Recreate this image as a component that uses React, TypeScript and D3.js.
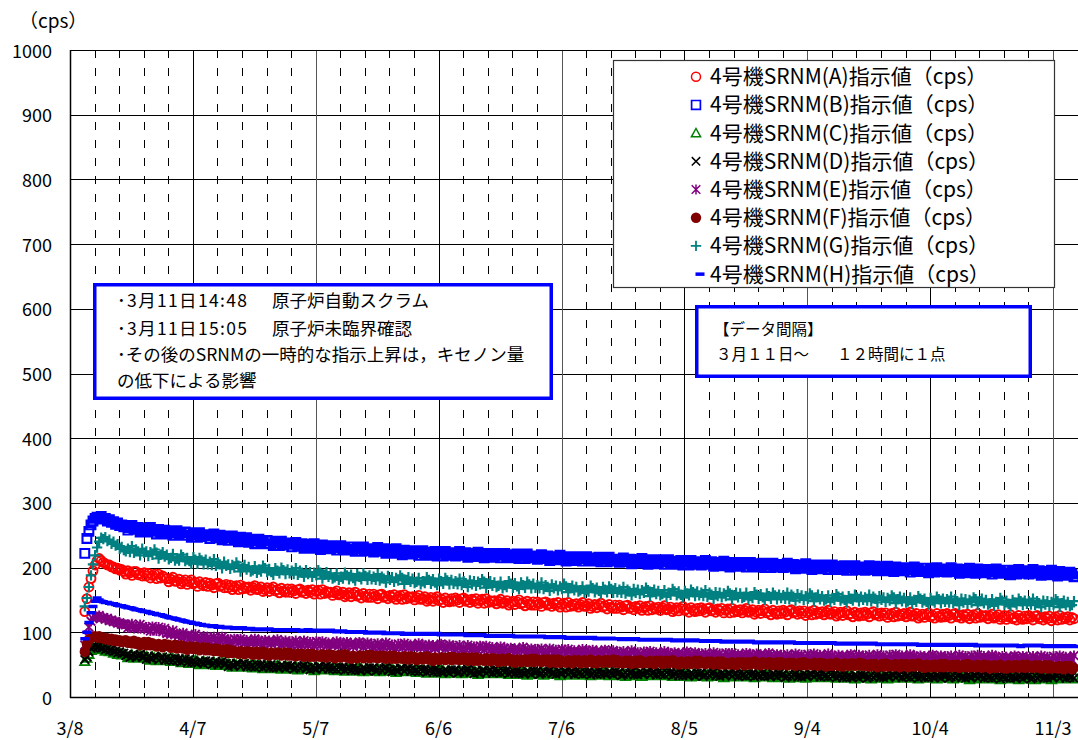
import React from "react";
import * as d3 from "d3";

// SRNM count rates (cps), one reading every 12 hours from 2011-03-11 15:00.
// Each row holds 10 days (20 readings).
const srnmA = [
  132,152,170,183,195,204,211,214,211,208,206,204,204,201,201,198,199,196,197,194,
  190,195,192,188,194,194,189,191,187,192,187,191,184,188,190,183,190,184,187,185,
  183,178,182,185,179,179,182,175,178,181,174,178,181,175,177,171,178,174,172,177,
  171,176,173,169,175,176,171,173,169,174,169,173,166,170,172,166,173,167,170,168,
  170,165,169,172,166,167,170,163,166,169,163,167,170,164,166,161,168,164,162,167,
  162,167,164,160,166,167,162,164,160,165,162,166,159,163,165,159,166,160,163,161,
  162,157,161,164,158,159,162,155,158,161,155,159,162,156,158,153,160,156,154,159,
  154,159,156,152,158,159,154,156,152,157,154,158,151,155,157,151,158,152,155,153,
  155,150,154,157,151,152,155,148,151,154,148,152,155,149,151,146,153,149,147,152,
  148,153,150,146,152,153,148,150,146,151,148,152,145,149,151,145,152,146,149,147,
  149,144,148,151,145,146,149,142,145,148,143,147,150,144,146,141,148,144,142,147,
  142,147,144,140,146,147,142,144,140,145,142,146,139,143,145,139,146,140,143,141,
  144,139,143,146,140,141,144,137,140,143,138,142,145,139,141,136,143,139,137,142,
  137,142,139,135,141,142,137,139,135,140,137,141,134,138,140,134,141,135,138,136,
  139,134,138,141,135,136,139,132,135,138,133,137,140,134,136,131,138,134,132,137,
  133,138,135,131,137,138,133,135,131,136,133,137,130,134,136,130,137,131,134,132,
  135,130,134,137,131,132,135,128,131,134,129,133,136,130,132,127,134,130,128,133,
  129,134,131,127,133,135,130,132,128,133,129,133,126,130,132,127,134,128,131,129,
  132,127,131,134,128,129,132,125,128,131,126,130,133,127,129,124,131,127,125,130,
  126,131,128,124,130,132,127,129,125,130,126,130,123,127,129,124,131,125,128,126,
  129,124,128,131,125,126,129,122,125,128,123,127,130,124,126,122,129,125,123,128,
  124,129,126,122,128,129,124,126,122,127,124,128,121,125,127,122,129,123,126,124,
  126,121,125,128,122,124,127,120,123,126,120,124,127,121,123,119,126,122,120,125,
  121,126,123,119,125,126,121,123,119,124,121,125,118,122,124,119,126,120,123,121,
  124,119,123,121,
];

const srnmB = [
  222,245,256,266,272,276,278,277,279,275,276,272,274,270,271,267,269,265,266,263,
  263,258,262,265,259,259,262,255,258,261,255,259,262,256,258,252,259,255,253,258,
  252,257,254,250,256,257,252,254,250,255,250,254,247,251,253,247,254,248,251,249,
  250,245,249,252,246,247,250,243,246,249,242,246,249,243,245,240,247,243,241,246,
  239,244,241,237,243,244,239,241,237,242,237,241,234,238,240,234,241,235,238,236,
  237,232,236,239,233,234,237,230,233,236,230,234,237,231,233,228,235,231,229,234,
  229,234,231,227,233,234,229,231,227,232,228,232,225,229,231,225,232,226,229,227,
  229,224,228,231,225,226,229,222,225,228,222,226,229,223,225,220,227,223,221,226,
  221,226,223,219,225,226,221,223,219,224,221,225,218,222,224,218,225,219,222,220,
  223,218,222,225,219,220,223,216,219,222,217,221,224,218,220,215,222,218,216,221,
  217,222,219,215,221,222,217,219,215,220,217,221,214,218,220,214,221,215,218,216,
  218,213,217,220,214,215,218,211,214,217,212,216,219,213,215,210,217,213,211,216,
  212,217,214,210,216,217,212,214,210,215,212,216,209,213,215,209,216,210,213,211,
  213,208,212,215,209,210,213,206,209,212,207,211,214,208,210,205,212,208,206,211,
  207,212,209,205,211,212,207,209,205,210,207,211,204,208,210,204,211,205,208,206,
  209,204,208,211,205,206,209,202,205,208,203,207,210,204,206,201,208,204,202,207,
  203,208,205,201,207,208,203,205,201,206,203,207,200,204,206,200,207,201,204,202,
  205,200,204,207,201,202,205,198,201,204,199,203,206,200,202,197,204,200,198,203,
  199,204,201,197,203,204,199,201,197,202,199,203,196,200,202,196,203,197,200,198,
  201,196,200,203,197,199,202,195,198,201,195,199,202,196,198,194,201,197,195,200,
  195,200,197,193,199,201,196,198,194,199,195,199,192,196,198,193,200,194,197,195,
  198,193,197,200,194,195,198,191,194,197,192,196,199,193,195,191,198,194,192,197,
  192,197,194,190,196,198,193,195,191,196,192,196,189,193,195,190,197,191,194,192,
  195,190,194,197,191,192,195,188,191,194,189,193,196,190,192,187,194,190,188,193,
  188,193,190,186,
];

const srnmC = [
  55,60,66,72,75,76,75,76,73,74,71,73,70,71,68,69,66,68,65,66,
  65,61,62,65,60,62,60,65,63,60,62,59,57,62,60,56,61,59,56,60,
  56,58,55,60,55,58,56,53,58,55,56,52,55,53,57,55,50,53,55,51,
  54,50,51,54,49,51,49,54,52,49,51,48,46,51,49,46,51,49,46,50,
  46,48,45,50,45,49,47,44,49,46,48,44,47,45,49,48,43,46,48,44,
  47,43,44,47,42,45,43,48,46,43,46,43,41,46,44,42,47,45,42,46,
  42,44,41,46,41,45,43,40,45,42,44,40,43,41,45,44,39,42,44,40,
  44,40,41,44,39,42,40,45,43,40,43,40,38,43,41,39,44,42,39,43,
  39,41,38,43,38,42,40,37,42,39,41,37,40,38,42,41,36,39,41,37,
  41,37,38,41,36,39,37,42,40,37,40,37,35,40,38,36,41,39,36,40,
  37,39,36,41,36,40,38,35,40,37,39,35,38,36,40,39,34,37,39,35,
  39,35,36,39,34,37,35,40,38,35,38,35,33,38,36,34,39,37,34,38,
  35,37,34,39,34,38,36,33,38,35,38,34,37,35,39,38,33,36,38,34,
  37,33,34,37,32,35,33,38,36,33,37,34,32,37,35,33,38,36,33,37,
  34,36,33,38,33,37,35,32,37,34,36,32,35,33,37,36,31,34,36,32,
  36,32,33,36,31,34,32,37,35,32,35,32,30,35,33,31,36,34,31,35,
  32,34,31,36,31,35,33,30,35,32,35,31,34,32,36,35,30,33,35,31,
  34,30,31,34,29,32,30,35,33,30,34,31,29,34,32,30,35,33,30,34,
  31,33,30,35,30,34,32,29,34,31,33,29,32,30,34,33,28,31,33,29,
  33,29,30,33,28,31,29,34,32,29,33,30,28,33,31,29,34,32,29,33,
  30,32,29,34,29,33,31,28,33,30,33,29,32,30,34,33,28,31,33,29,
  33,29,30,33,28,31,29,34,32,29,32,29,27,32,30,28,33,31,28,32,
  29,31,28,33,28,32,30,27,32,29,32,28,31,29,33,32,27,30,32,28,
  32,28,29,32,27,30,28,33,31,28,32,29,27,32,30,28,33,31,28,32,
  29,31,28,33,
];

const srnmD = [
  58,62,70,75,77,79,77,78,75,76,73,75,72,73,70,71,68,70,67,68,
  64,66,61,63,66,61,64,66,61,63,58,63,60,59,63,61,57,60,62,57,
  61,57,59,56,60,56,59,54,57,59,53,58,53,56,54,52,56,54,51,56,
  53,55,50,52,55,50,53,55,50,52,47,52,49,48,52,51,47,50,52,47,
  51,47,49,46,50,47,50,45,48,50,45,50,45,48,46,45,49,47,44,49,
  46,48,43,45,48,44,47,49,44,46,42,47,44,43,47,47,43,46,48,43,
  47,43,45,42,46,43,46,41,44,46,41,46,41,44,42,41,45,43,40,45,
  43,45,40,42,45,41,44,46,41,43,39,44,41,40,44,44,40,43,45,40,
  44,40,42,39,43,40,43,38,41,43,38,43,38,41,39,38,42,40,37,42,
  40,42,37,39,42,38,41,43,38,40,36,41,38,37,41,41,37,40,42,37,
  42,38,40,37,41,38,41,36,39,41,36,41,36,39,37,36,40,38,35,40,
  38,40,35,37,40,36,39,41,36,38,35,40,37,36,40,39,35,38,40,35,
  40,36,38,35,39,36,39,34,37,39,35,40,35,38,36,35,39,37,34,39,
  36,38,33,35,38,34,37,39,34,36,34,39,36,35,39,38,34,37,39,34,
  39,35,37,34,38,35,38,33,36,38,33,38,33,36,34,33,37,35,32,37,
  35,37,32,34,37,33,36,38,33,35,32,37,34,33,37,36,32,35,37,32,
  37,33,35,32,36,33,36,31,34,36,32,37,32,35,33,32,36,34,31,36,
  33,35,30,32,35,31,34,36,31,33,31,36,33,32,36,35,31,34,36,31,
  36,32,34,31,35,32,35,30,33,35,30,35,30,33,31,30,34,32,29,34,
  32,34,29,31,34,30,33,35,30,32,30,35,32,31,35,34,30,33,35,30,
  35,31,33,30,34,31,34,29,32,34,30,35,30,33,31,30,34,32,29,34,
  32,34,29,31,34,30,33,35,30,32,29,34,31,30,34,33,29,32,34,29,
  34,30,32,29,33,30,33,28,31,33,29,34,29,32,30,29,33,31,28,33,
  31,33,28,30,33,29,32,34,29,31,29,34,31,30,34,33,29,32,34,29,
  34,30,32,29,
];

const srnmE = [
  80,95,108,117,121,125,124,126,122,123,120,122,118,119,116,117,114,115,112,113,
  112,107,109,113,106,108,106,112,109,105,108,105,102,109,106,102,108,105,101,106,
  98,100,97,103,96,98,96,92,99,95,95,90,94,92,97,93,87,91,94,89,
  92,87,89,93,86,89,87,93,90,86,89,86,83,90,87,84,90,87,83,88,
  85,87,84,90,83,87,85,81,88,84,87,82,86,84,89,86,80,84,87,82,
  86,81,83,87,80,83,81,87,84,80,85,82,79,86,83,80,86,83,79,84,
  81,83,80,86,79,84,82,78,85,81,83,78,82,80,85,83,77,81,84,79,
  82,77,79,83,76,80,78,84,81,77,81,78,75,82,79,77,83,80,76,81,
  78,80,77,83,76,80,78,74,81,77,80,75,79,77,82,80,74,78,81,76,
  79,74,76,80,73,76,74,80,77,73,78,75,72,79,76,73,79,76,72,77,
  73,75,72,78,71,75,73,69,76,72,75,70,74,72,77,74,68,72,75,70,
  74,69,71,75,68,71,69,75,72,68,73,70,67,74,71,68,74,71,67,72,
  69,71,68,74,67,72,70,66,73,69,71,66,70,68,73,71,65,69,72,67,
  70,65,67,71,64,68,66,72,69,65,69,66,63,70,67,65,71,68,64,69,
  66,68,65,71,64,68,66,62,69,65,68,63,67,65,70,68,62,66,69,64,
  67,62,64,68,61,65,63,69,66,62,67,64,61,68,65,62,68,65,61,66,
  63,65,62,68,61,66,64,60,67,63,66,61,65,63,68,65,59,63,66,61,
  65,60,62,66,59,63,61,67,64,60,65,62,59,66,63,61,67,64,60,65,
  62,64,61,67,60,64,62,58,65,61,64,59,63,61,66,64,58,62,65,60,
  64,59,61,65,58,62,60,66,63,59,64,61,58,65,62,60,66,63,59,64,
  61,63,60,66,59,63,61,57,64,60,63,58,62,60,65,63,57,61,64,59,
  63,58,60,64,57,61,59,65,62,58,63,60,57,64,61,59,65,62,58,63,
  60,62,59,65,58,62,60,56,63,59,62,57,61,59,64,62,56,60,63,58,
  62,57,59,63,56,60,58,64,61,57,62,59,56,63,60,58,64,61,57,62,
  59,61,58,64,
];

const srnmF = [
  70,82,88,91,93,94,92,94,91,92,89,91,88,90,87,89,86,88,85,87,
  88,84,86,83,87,82,85,80,83,85,80,85,80,83,81,78,82,80,77,82,
  79,81,76,78,81,75,78,80,75,77,73,78,75,74,78,76,72,75,77,72,
  76,72,74,71,75,71,74,69,72,74,68,73,68,71,69,67,71,69,66,71,
  68,70,65,67,70,65,68,70,65,67,64,69,66,65,69,68,64,67,69,64,
  68,64,66,63,67,64,67,62,65,67,62,67,62,65,63,62,66,64,61,66,
  63,65,60,62,65,61,64,66,61,63,59,64,61,60,64,64,60,63,65,60,
  65,61,63,60,64,61,64,59,62,64,59,64,59,62,60,59,63,61,58,63,
  60,62,57,59,62,58,61,63,58,60,56,61,58,57,61,61,57,60,62,57,
  62,58,60,57,61,58,61,56,59,61,56,61,56,59,57,56,60,58,55,60,
  57,59,54,56,59,55,58,60,55,57,53,58,55,54,58,58,54,57,59,54,
  59,55,57,54,58,55,58,53,56,58,53,58,53,56,54,53,57,55,52,57,
  55,57,52,54,57,53,56,58,53,55,52,57,54,53,57,57,53,56,58,53,
  57,53,55,52,56,53,56,51,54,56,52,57,52,55,53,52,56,54,51,56,
  54,56,51,53,56,52,55,57,52,54,50,55,52,51,55,55,51,54,56,51,
  56,52,54,51,55,52,55,50,53,55,50,55,50,53,51,50,54,52,49,54,
  52,54,49,51,54,50,53,55,50,52,49,54,51,50,54,53,49,52,54,49,
  54,50,52,49,53,50,53,48,51,53,49,54,49,52,50,49,53,51,48,53,
  50,52,47,49,52,48,51,53,48,50,47,52,49,48,52,52,48,51,53,48,
  52,48,50,47,51,48,51,46,49,51,47,52,47,50,48,47,51,49,46,51,
  49,51,46,48,51,47,50,52,47,49,45,50,47,46,50,50,46,49,51,46,
  51,47,49,46,50,47,50,45,48,50,46,51,46,49,47,46,50,48,45,50,
  47,49,44,46,49,45,48,50,45,47,44,49,46,45,49,49,45,48,50,45,
  50,46,48,45,49,46,49,44,47,49,44,49,44,47,45,44,48,46,43,48,
  46,48,43,45,
];

const srnmG = [
  140,153,170,188,205,219,231,240,246,244,247,241,243,237,240,234,236,229,232,227,
  225,229,224,233,223,228,225,219,229,223,225,218,224,220,228,223,214,220,224,217,
  220,213,215,221,211,214,211,220,216,210,215,210,206,216,212,206,215,211,205,212,
  205,209,204,213,203,208,205,199,209,203,205,198,204,200,208,203,194,200,204,197,
  201,194,196,202,192,197,194,203,199,193,198,193,189,199,195,191,200,196,190,197,
  191,195,190,199,189,195,192,186,196,190,193,186,192,188,196,192,183,189,193,186,
  190,183,185,191,181,186,183,192,188,182,189,184,180,190,186,182,191,187,181,188,
  182,186,181,190,180,186,183,177,187,181,185,178,184,180,188,184,175,181,185,178,
  183,176,178,184,174,179,176,185,181,175,182,177,173,183,179,175,184,180,174,181,
  175,179,174,183,173,179,176,170,180,174,179,172,178,174,182,178,169,175,179,172,
  177,170,172,178,168,173,170,179,175,169,176,171,167,177,173,169,178,174,168,175,
  169,173,168,177,167,173,170,164,174,168,172,165,171,167,175,171,162,168,172,165,
  170,163,165,171,161,166,163,172,168,162,169,164,160,170,166,162,171,167,161,168,
  162,166,161,170,160,166,163,157,167,161,166,159,165,161,169,165,156,162,166,159,
  164,157,159,165,155,161,158,167,163,157,163,158,154,164,160,157,166,162,156,163,
  157,161,156,165,155,161,158,152,162,156,161,154,160,156,164,160,151,157,161,154,
  160,153,155,161,151,156,153,162,158,152,159,154,150,160,156,152,161,157,151,158,
  153,157,152,161,151,158,155,149,159,153,157,150,156,152,160,157,148,154,158,151,
  156,149,151,157,147,153,150,159,155,149,155,150,146,156,152,149,158,154,148,155,
  150,154,149,158,148,155,152,146,156,150,154,147,153,149,157,154,145,151,155,148,
  153,146,148,154,144,150,147,156,152,146,152,147,143,153,149,146,155,151,145,152,
  147,151,146,155,145,151,148,142,152,146,151,144,150,146,154,151,142,148,152,145,
  150,143,145,151,141,147,144,153,149,143,149,144,140,150,146,143,152,148,142,149,
  144,148,143,152,142,148,145,139,149,143,148,141,147,143,151,148,139,145,149,142,
  147,140,142,148,
];

const srnmH = [
  90,100,115,130,140,148,153,150,148,147,146,146,145,144,144,143,142,141,141,140,
  139,138,138,137,136,135,135,134,133,132,132,131,130,129,129,128,127,127,126,125,
  124,123,122,122,121,120,119,119,118,117,116,116,115,114,114,113,112,112,111,111,
  110,110,109,110,109,108,109,108,108,107,108,107,107,106,107,106,106,107,106,105,
  105,106,105,104,105,105,104,105,104,104,105,104,104,103,104,104,103,104,104,103,
  104,103,103,104,103,103,102,103,103,104,103,102,103,103,102,103,102,103,102,102,
  103,102,102,101,102,101,102,101,101,100,101,101,100,101,100,100,101,100,99,100,
  100,99,100,99,99,100,99,98,99,99,98,99,98,98,99,98,97,98,98,97,
  98,98,97,98,97,98,98,97,97,98,97,97,98,97,96,97,97,96,97,97,
  97,96,97,96,96,97,96,95,96,96,95,96,95,95,96,95,95,94,95,95,
  95,94,95,95,94,95,94,94,95,94,94,93,94,94,93,94,94,93,94,93,
  94,93,93,94,93,93,92,93,93,92,93,92,92,93,92,92,91,92,92,91,
  92,91,92,91,91,92,91,91,92,91,90,91,91,90,91,90,90,91,90,90,
  90,90,89,90,89,90,90,89,89,90,89,89,88,89,89,88,89,88,88,89,
  89,88,89,88,88,89,88,88,87,88,88,87,88,87,88,88,87,87,88,87,
  87,87,86,87,86,87,87,86,86,87,86,86,85,86,86,85,86,85,85,86,
  86,85,86,85,85,86,85,85,84,85,85,84,85,85,84,85,84,84,85,84,
  85,84,85,84,84,85,84,84,83,84,84,83,84,84,83,84,83,83,84,83,
  84,83,84,83,83,84,83,83,82,83,83,82,83,83,82,83,82,82,83,82,
  83,82,83,82,82,83,82,82,81,82,82,81,82,82,81,82,81,81,82,81,
  82,81,82,81,81,82,81,81,80,81,81,80,81,81,80,81,80,80,81,80,
  81,80,81,81,80,81,80,80,81,80,80,81,80,80,81,80,79,80,80,79,
  80,80,79,80,79,80,80,79,80,79,79,80,79,79,80,79,79,78,79,79,
  80,80,79,80,79,79,80,79,79,78,79,79,78,79,79,78,79,78,78,79,
  79,78,79,78,
];

const legendLabels = [
  "4号機SRNM(A)指示値（cps）",
  "4号機SRNM(B)指示値（cps）",
  "4号機SRNM(C)指示値（cps）",
  "4号機SRNM(D)指示値（cps）",
  "4号機SRNM(E)指示値（cps）",
  "4号機SRNM(F)指示値（cps）",
  "4号機SRNM(G)指示値（cps）",
  "4号機SRNM(H)指示値（cps）",
];

const yTickValues = [0, 100, 200, 300, 400, 500, 600, 700, 800, 900, 1000];
const xTickLabels = ["3/8", "4/7", "5/7", "6/6", "7/6", "8/5", "9/4", "10/4", "11/3"];

const FONT = "'Noto Sans CJK JP', 'Noto Sans', sans-serif";
const DAY = 86400000;
const AXIS_START = Date.UTC(2011, 2, 8);
const FIRST_READING = Date.UTC(2011, 2, 11, 15);
const STEP = DAY / 2;

const W = 1078;
const H = 740;
const PLOT = { left: 70, top: 50, bottom: 697, right: W };

const x = d3
  .scaleUtc()
  .domain([new Date(AXIS_START), new Date(AXIS_START + 240 * DAY)])
  .range([70, 1053]);
const y = d3.scaleLinear().domain([0, 1000]).range([PLOT.bottom, PLOT.top]);

type Kind = "circle" | "square" | "triangle" | "cross" | "asterisk" | "dot" | "plus" | "dash";

const f = (n: number) => n.toFixed(1);

function glyph(kind: Kind, cx: number, cy: number): string {
  switch (kind) {
    case "circle": {
      const r = 4.5;
      return `M${f(cx + r)},${f(cy)}A${r},${r} 0 1,0 ${f(cx - r)},${f(cy)}A${r},${r} 0 1,0 ${f(cx + r)},${f(cy)}Z`;
    }
    case "dot": {
      const r = 5.2;
      return `M${f(cx + r)},${f(cy)}A${r},${r} 0 1,0 ${f(cx - r)},${f(cy)}A${r},${r} 0 1,0 ${f(cx + r)},${f(cy)}Z`;
    }
    case "square": {
      const h = 4.4;
      return `M${f(cx - h)},${f(cy - h)}h${2 * h}v${2 * h}h${-2 * h}Z`;
    }
    case "triangle": {
      const h = 4.6;
      return `M${f(cx)},${f(cy - h)}L${f(cx + h)},${f(cy + h * 0.8)}L${f(cx - h)},${f(cy + h * 0.8)}Z`;
    }
    case "cross": {
      const h = 4.2;
      return `M${f(cx - h)},${f(cy - h)}L${f(cx + h)},${f(cy + h)}M${f(cx - h)},${f(cy + h)}L${f(cx + h)},${f(cy - h)}`;
    }
    case "asterisk": {
      const h = 4.3;
      return `M${f(cx - h)},${f(cy - h)}L${f(cx + h)},${f(cy + h)}M${f(cx - h)},${f(cy + h)}L${f(cx + h)},${f(cy - h)}M${f(cx)},${f(cy - h - 0.8)}V${f(cy + h + 0.8)}`;
    }
    case "plus": {
      const h = 5.2;
      return `M${f(cx - h)},${f(cy)}H${f(cx + h)}M${f(cx)},${f(cy - h)}V${f(cy + h)}`;
    }
    case "dash": {
      const w = 4.5;
      return `M${f(cx - w)},${f(cy - 1.75)}h${2 * w}v3.5h${-2 * w}Z`;
    }
  }
}

const filled = (k: Kind) => k === "dot" || k === "dash";
const strokeFor = (k: Kind) => (k === "plus" ? 2.2 : k === "square" ? 2.1 : 1.9);

const series: { values: number[]; label: string; color: string; kind: Kind }[] = [
  { values: srnmA, label: legendLabels[0], color: "#ff0000", kind: "circle" },
  { values: srnmB, label: legendLabels[1], color: "#0000ff", kind: "square" },
  { values: srnmC, label: legendLabels[2], color: "#008000", kind: "triangle" },
  { values: srnmD, label: legendLabels[3], color: "#000000", kind: "cross" },
  { values: srnmE, label: legendLabels[4], color: "#800080", kind: "asterisk" },
  { values: srnmF, label: legendLabels[5], color: "#800000", kind: "dot" },
  { values: srnmG, label: legendLabels[6], color: "#008080", kind: "plus" },
  { values: srnmH, label: legendLabels[7], color: "#0000ff", kind: "dash" },
];

const crisp = (v: number) => Math.round(v) + 0.5;

export default function App() {
  const majorDates = d3.range(0, 9).map((i) => new Date(AXIS_START + i * 30 * DAY));
  const minorDates = d3
    .range(1, 43)
    .filter((i) => i % 5 !== 0)
    .map((i) => new Date(AXIS_START + i * 6 * DAY));

  const seriesPaths = series.map((s) =>
    s.values
      .map((v, i) => glyph(s.kind, x(new Date(FIRST_READING + i * STEP)), y(v)))
      .join("")
  );

  const legendRow = (i: number) => 76.7 + i * 28.2;

  return (
    <svg
      width={W}
      height={H}
      style={{ position: "absolute", left: 0, top: 0, display: "block" }}
      fontFamily={FONT}
    >
      <rect x={0} y={0} width={W} height={H} fill="#ffffff" />

      {/* horizontal grid */}
      {yTickValues
        .filter((v) => v > 0)
        .map((v) => (
          <line
            key={`hy${v}`}
            x1={PLOT.left}
            x2={PLOT.right}
            y1={crisp(y(v))}
            y2={crisp(y(v))}
            stroke="#000"
            strokeWidth={1}
          />
        ))}

      {/* dashed minor verticals */}
      {minorDates.map((d, i) => (
        <line
          key={`mn${i}`}
          x1={crisp(x(d))}
          x2={crisp(x(d))}
          y1={PLOT.top}
          y2={PLOT.bottom}
          stroke="#000"
          strokeWidth={1}
          strokeDasharray="8 10"
        />
      ))}
      {minorDates.map((d, i) => (
        <line
          key={`mt${i}`}
          x1={crisp(x(d))}
          x2={crisp(x(d))}
          y1={PLOT.bottom - 4}
          y2={PLOT.bottom}
          stroke="#000"
          strokeWidth={1}
        />
      ))}

      {/* solid monthly verticals */}
      {majorDates.slice(1).map((d, i) => (
        <line
          key={`mj${i}`}
          x1={crisp(x(d))}
          x2={crisp(x(d))}
          y1={PLOT.top}
          y2={PLOT.bottom}
          stroke={i % 2 === 0 ? "#000" : "#555"}
          strokeWidth={1}
        />
      ))}

      {/* frame */}
      <line x1={PLOT.left} x2={PLOT.right} y1={crisp(PLOT.top)} y2={crisp(PLOT.top)} stroke="#000" />
      <line x1={PLOT.left} x2={PLOT.right} y1={crisp(PLOT.bottom)} y2={crisp(PLOT.bottom)} stroke="#000" strokeWidth={1.5} />
      <line x1={crisp(PLOT.left)} x2={crisp(PLOT.left)} y1={PLOT.top} y2={PLOT.bottom + 1} stroke="#000" strokeWidth={1.5} />

      {/* y tick labels */}
      {yTickValues.map((v) => (
        <text key={`yl${v}`} x={52} y={y(v) + 7.5} fontSize={18} textAnchor="end" fill="#000">
          {v}
        </text>
      ))}
      <text x={19} y={28} fontSize={19} fill="#000">
        （cps）
      </text>

      {/* x tick labels */}
      {majorDates.map((d, i) => (
        <text key={`xl${i}`} x={x(d)} y={735} fontSize={18} textAnchor="middle" fill="#000">
          {xTickLabels[i]}
        </text>
      ))}

      {/* readings */}
      {series.map((s, i) => (
        <path
          key={`s${i}`}
          d={seriesPaths[i]}
          fill={filled(s.kind) ? s.color : "none"}
          stroke={filled(s.kind) ? "none" : s.color}
          strokeWidth={strokeFor(s.kind)}
        />
      ))}

      {/* legend */}
      <rect x={613.5} y={60.5} width={441} height={227} fill="#fff" stroke="#333" strokeWidth={1.2} />
      {series.map((s, i) => (
        <g key={`lg${i}`}>
          <path
            d={glyph(s.kind, s.kind === "dash" ? 700 : 696, legendRow(i))}
            fill={filled(s.kind) ? s.color : "none"}
            stroke={filled(s.kind) ? "none" : s.color}
            strokeWidth={strokeFor(s.kind) - 0.4}
          />
          <text x={710} y={legendRow(i) + 7.5} fontSize={21} fill="#000">
            {s.label}
          </text>
        </g>
      ))}

      {/* event notes */}
      <rect x={94.75} y={284.75} width={456.5} height={113.5} fill="#fff" stroke="#0000ff" strokeWidth={3.5} />
      <g fontSize={17.5} fill="#000">
        <text x={117} y={307} textLength={130} lengthAdjust="spacing">･3月11日14:48</text>
        <text x={272} y={307}>原子炉自動スクラム</text>
        <text x={117} y={335} textLength={130} lengthAdjust="spacing">･3月11日15:05</text>
        <text x={272} y={335}>原子炉未臨界確認</text>
        <text x={117} y={361}>･その後のSRNMの一時的な指示上昇は，キセノン量</text>
        <text x={117} y={387}>の低下による影響</text>
      </g>

      {/* sampling note */}
      <rect x={696.75} y={306.75} width={333.5} height={69.5} fill="#fff" stroke="#0000ff" strokeWidth={3.5} />
      <g fontSize={15.5} fill="#000">
        <text x={714} y={335}>【データ間隔】</text>
        <text x={716} y={360}>３月１１日～</text>
        <text x={837} y={360}>１２時間に１点</text>
      </g>
    </svg>
  );
}
